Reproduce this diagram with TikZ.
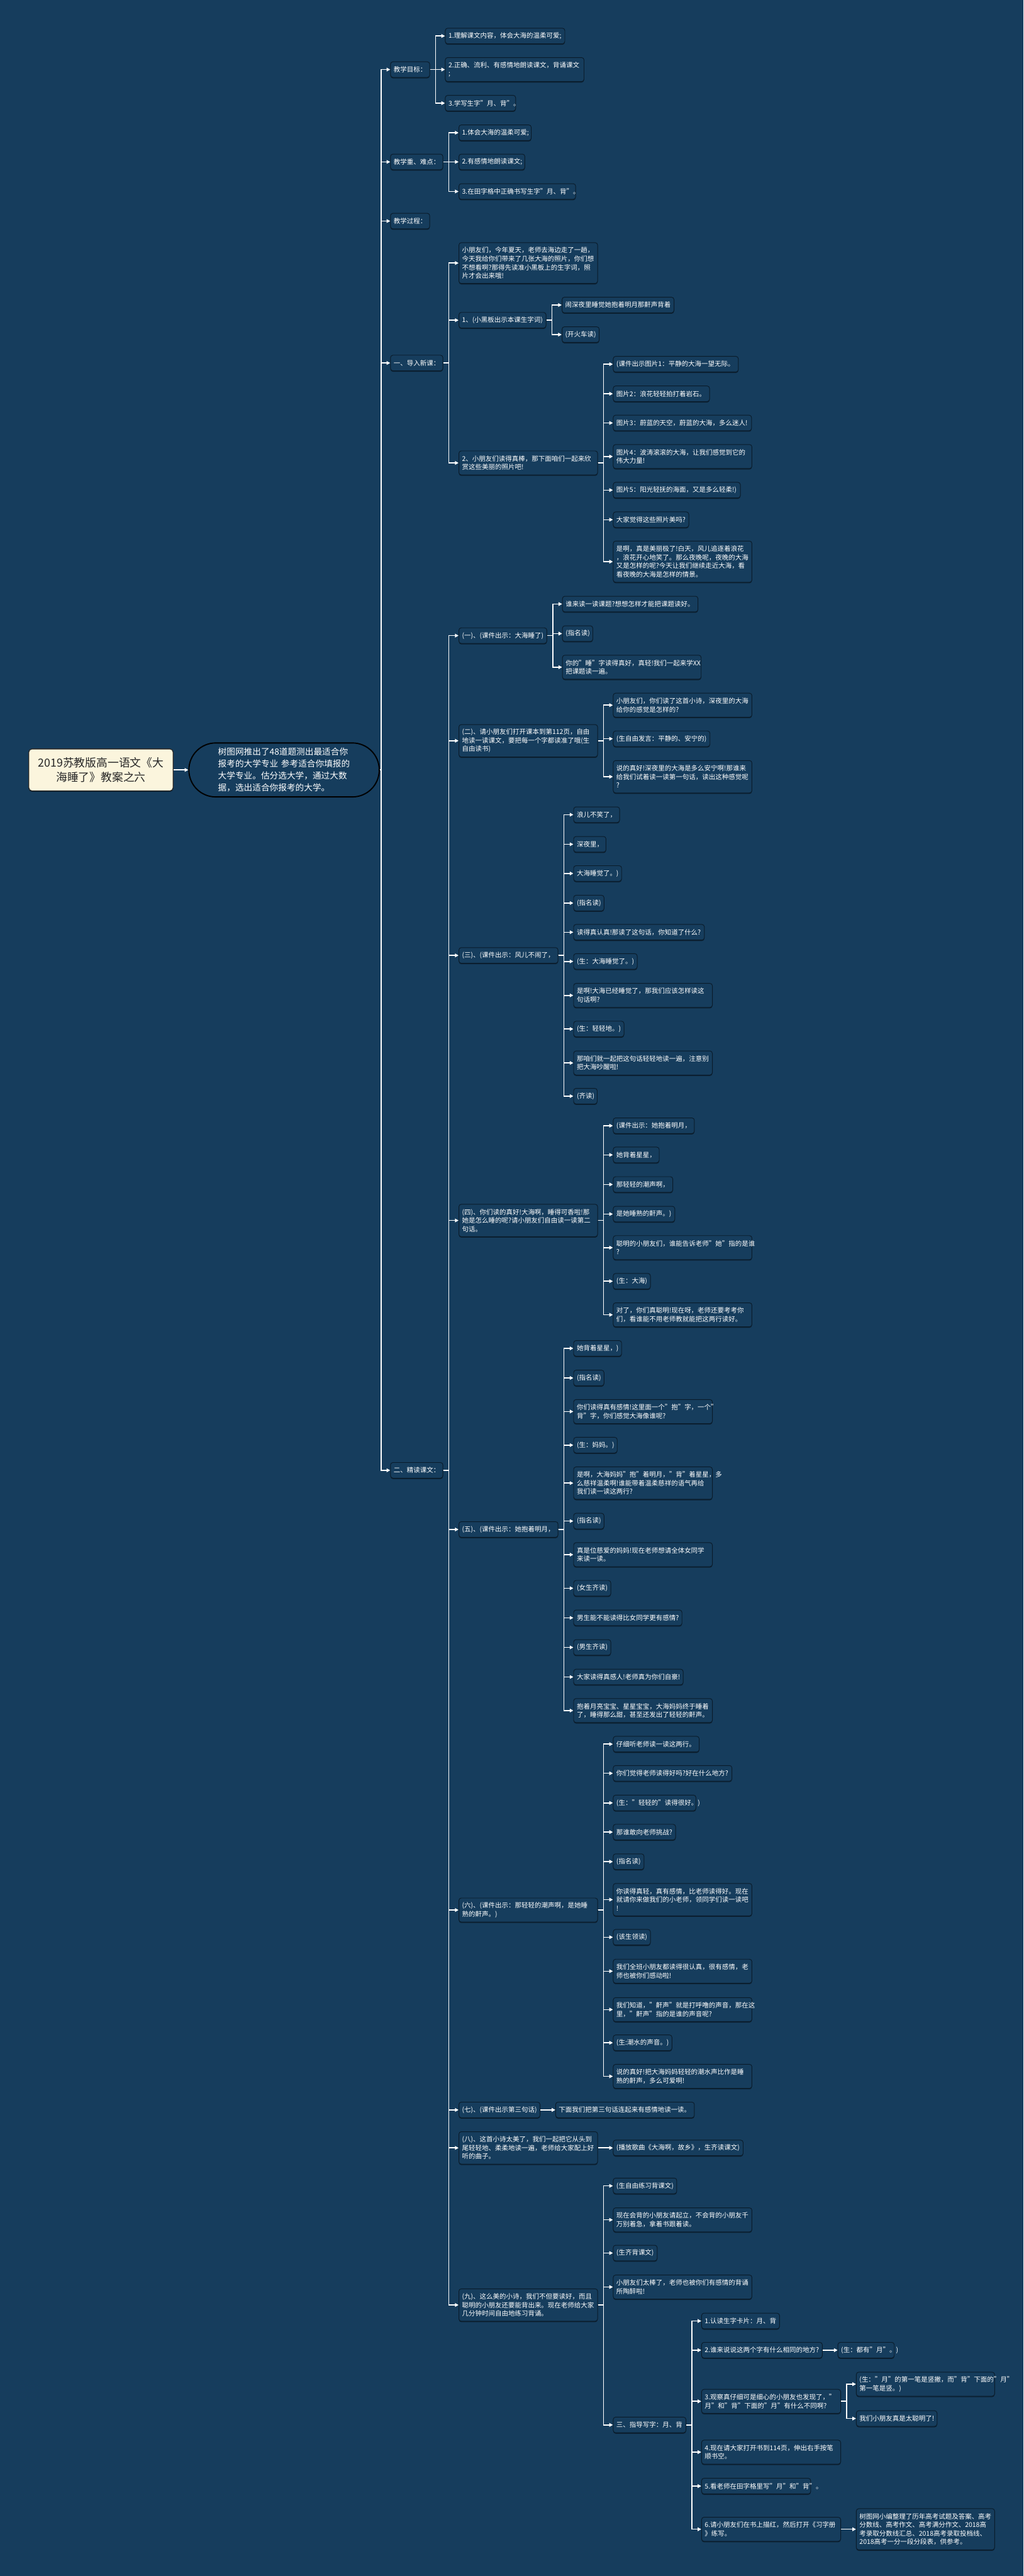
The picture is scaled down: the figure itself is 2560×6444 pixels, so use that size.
\documentclass[tikz,border=0pt]{standalone}
\usepackage{fontspec}
\setmainfont{Noto Sans CJK SC}
\usetikzlibrary{arrows.meta,shadows}
\definecolor{bg}{HTML}{163D5D}
\definecolor{edgecol}{HTML}{0A1C2B}
\definecolor{rootfill}{HTML}{FBF5DD}
\tikzset{
  box/.style={draw=edgecol, line width=1.5pt, fill=bg, rounded corners=6pt, text=white,
    inner xsep=8pt, inner ysep=0pt, align=left, font=\fontsize{16.5}{21.3}\selectfont,
    drop shadow={shadow xshift=0pt, shadow yshift=-2.5pt, opacity=0.45, fill=black}},
  rootbox/.style={draw=black!85, line width=2pt, fill=rootfill, rounded corners=8pt, text=black!85,
    inner xsep=8pt, inner ysep=0pt, align=center, font=\fontsize{28}{37}\selectfont,
    drop shadow={shadow xshift=0pt, shadow yshift=-2.5pt, opacity=0.45, fill=black}},
  descbox/.style={draw=black, line width=3pt, fill=bg, rounded corners=67pt, text=white,
    inner ysep=0pt, align=left, font=\fontsize{21.5}{30}\selectfont},
  conn/.style={draw=white, line width=2.5pt, -{Triangle[length=9pt,width=9pt]}},
}
\newcommand\mnode[6]{\pgfmathsetmacro\mtw{#4-16}\node[box, anchor=west, minimum width=#4pt, minimum height=#5pt, text width=\mtw pt] (#1) at (#2,#3) {#6};}
\newcommand\mbranch[2]{\draw[conn] (#1.east) -- ++(14,0) |- (#2.west);}
\newcommand\mlink[2]{\draw[conn] (#1.east) -- (#2.west);}
\begin{document}
\begin{tikzpicture}[x=1pt,y=-1pt]
\fill[bg] (0,0) rectangle (2560,6444);
\useasboundingbox (0,0) rectangle (2560,6444);

\node[rootbox, anchor=west, minimum width=361pt, minimum height=105pt, text width=345pt] (root) at (71,1926) {2019苏教版高一语文《大\\海睡了》教案之六};
\node[descbox, anchor=west, minimum width=476pt, minimum height=135pt, text width=330pt, inner xsep=73pt] (desc) at (471,1926) {树图网推出了48道题测出最适合你\\报考的大学专业 参考适合你填报的\\大学专业。估分选大学，通过大数\\据，选出适合你报考的大学。};
\mlink{root}{desc}

% level 2
\mnode{jxmb}{976}{174}{98}{39}{教学目标：}
\mnode{jxzd}{976}{405}{131}{39}{教学重、难点：}
\mnode{jxgc}{976}{553}{98}{39}{教学过程：}
\mnode{drxk}{976}{908}{131}{39}{一、导入新课：}
\mnode{jdkw}{976}{3678}{131}{39}{二、精读课文：}
\foreach \c in {jxmb,jxzd,jxgc,drxk,jdkw}{\draw[conn] (desc.east) -- ++(3,0) |- (\c.west);}

% 教学目标
\mnode{m1}{1113}{90}{299}{39}{1.理解课文内容，体会大海的温柔可爱;}
\mnode{m2}{1113}{174}{347}{60}{2.正确、流利、有感情地朗读课文，背诵课文\\;}
\mnode{m3}{1113}{258}{176}{39}{3.学写生字"月、背"。}
\mbranch{jxmb}{m1}\mbranch{jxmb}{m2}\mbranch{jxmb}{m3}

% 教学重难点
\mnode{z1}{1147}{332}{181}{39}{1.体会大海的温柔可爱;}
\mnode{z2}{1147}{405}{165}{39}{2.有感情地朗读课文;}
\mnode{z3}{1147}{479}{292}{39}{3.在田字格中正确书写生字"月、背"。}
\mbranch{jxzd}{z1}\mbranch{jxzd}{z2}\mbranch{jxzd}{z3}

% 一、导入新课
\mnode{d1}{1147}{658}{347}{102}{小朋友们，今年夏天，老师去海边走了一趟，\\今天我给你们带来了几张大海的照片，你们想\\不想看啊?那得先读准小黑板上的生字词，照\\片才会出来哦!}
\mnode{d2}{1147}{801}{218}{39}{1、(小黑板出示本课生字词)}
\mnode{d3}{1147}{1158}{347}{60}{2、小朋友们读得真棒，那下面咱们一起来欣\\赏这些美丽的照片吧!}
\mbranch{drxk}{d1}\mbranch{drxk}{d2}\mbranch{drxk}{d3}
\mnode{d2a}{1405}{763}{280}{39}{闹深夜里睡觉她抱着明月那鼾声背着}
\mnode{d2b}{1405}{837}{93}{39}{(开火车读)}
\mbranch{d2}{d2a}\mbranch{d2}{d2b}
\mnode{p1}{1533}{911}{313}{39}{(课件出示图片1：平静的大海一望无际。}
\mnode{p2}{1533}{985}{241}{39}{图片2：浪花轻轻拍打着岩石。}
\mnode{p3}{1533}{1058}{346}{39}{图片3：蔚蓝的天空，蔚蓝的大海，多么迷人!}
\mnode{p4}{1533}{1142}{347}{60}{图片4：波涛滚滚的大海，让我们感觉到它的\\伟大力量!}
\mnode{p5}{1533}{1226}{318}{39}{图片5：阳光轻抚的海面，又是多么轻柔!)}
\mnode{p6}{1533}{1300}{189}{39}{大家觉得这些照片美吗?}
\mnode{p7}{1533}{1405}{347}{103}{是啊，真是美丽极了!白天，风儿追逐着浪花\\，浪花开心地笑了。那么夜晚呢，夜晚的大海\\又是怎样的呢?今天让我们继续走近大海，看\\看夜晚的大海是怎样的情景。}
\foreach \c in {p1,p2,p3,p4,p5,p6,p7}{\mbranch{d3}{\c}}

% 二、精读课文
\mnode{s1}{1147}{1590}{220}{39}{(一)、(课件出示：大海睡了)}
\mnode{s2}{1147}{1853}{347}{81}{(二)、请小朋友们打开课本到第112页，自由\\地读一读课文，要把每一个字都读准了哦(生\\自由读书)}
\mnode{s3}{1147}{2390}{248}{39}{(三)、(课件出示：风儿不闹了，}
\mnode{s4}{1147}{3053}{347}{81}{(四)、你们读的真好!大海啊，睡得可香啦!那\\她是怎么睡的呢?请小朋友们自由读一读第二\\句话。}
\mnode{s5}{1147}{3826}{248}{39}{(五)、(课件出示：她抱着明月，}
\mnode{s6}{1147}{4778}{347}{60}{(六)、(课件出示：那轻轻的潮声啊，是她睡\\熟的鼾声。)}
\mnode{s7}{1147}{5278}{203}{39}{(七)、(课件出示第三句话)}
\mnode{s8}{1147}{5373}{347}{81}{(八)、这首小诗太美了，我们一起把它从头到\\尾轻轻地、柔柔地读一遍，老师给大家配上好\\听的曲子。}
\mnode{s9}{1147}{5766}{347}{81}{(九)、这么美的小诗，我们不但要读好，而且\\聪明的小朋友还要能背出来。现在老师给大家\\几分钟时间自由地练习背诵。}
\foreach \c in {s1,s2,s3,s4,s5,s6,s7,s8,s9}{\mbranch{jdkw}{\c}}

% (一)
\mnode{s1a}{1406}{1511}{339}{39}{谁来读一读课题?想想怎样才能把课题读好。}
\mnode{s1b}{1406}{1585}{76}{39}{(指名读)}
\mnode{s1c}{1406}{1669}{347}{60}{你的"睡"字读得真好，真轻!我们一起来学XX\\把课题读一遍。}
\foreach \c in {s1a,s1b,s1c}{\mbranch{s1}{\c}}

% (二)
\mnode{s2a}{1533}{1764}{347}{60}{小朋友们，你们读了这首小诗，深夜里的大海\\给你的感觉是怎样的?}
\mnode{s2b}{1533}{1848}{242}{39}{(生自由发言：平静的、安宁的)}
\mnode{s2c}{1533}{1943}{347}{81}{说的真好!深夜里的大海是多么安宁啊!那谁来\\给我们试着读一读第一句话，读出这种感觉呢\\?}
\foreach \c in {s2a,s2b,s2c}{\mbranch{s2}{\c}}

% (三)
\mnode{s3a}{1434}{2038}{115}{39}{浪儿不笑了，}
\mnode{s3b}{1434}{2112}{81}{39}{深夜里，}
\mnode{s3c}{1434}{2185}{120}{39}{大海睡觉了。)}
\mnode{s3d}{1434}{2259}{76}{39}{(指名读)}
\mnode{s3e}{1434}{2332}{327}{39}{读得真认真!那读了这句话，你知道了什么?}
\mnode{s3f}{1434}{2405}{159}{39}{(生：大海睡觉了。)}
\mnode{s3g}{1434}{2490}{347}{60}{是啊!大海已经睡觉了，那我们应该怎样读这\\句话啊?}
\mnode{s3h}{1434}{2574}{126}{39}{(生：轻轻地。)}
\mnode{s3i}{1434}{2659}{347}{60}{那咱们就一起把这句话轻轻地读一遍，注意别\\把大海吵醒啦!}
\mnode{s3j}{1434}{2742}{59}{39}{(齐读)}
\foreach \c in {s3a,s3b,s3c,s3d,s3e,s3f,s3g,s3h,s3i,s3j}{\mbranch{s3}{\c}}

% (四)
\mnode{s4a}{1533}{2816}{203}{39}{(课件出示：她抱着明月，}
\mnode{s4b}{1533}{2889}{115}{39}{她背着星星，}
\mnode{s4c}{1533}{2963}{149}{39}{那轻轻的潮声啊，}
\mnode{s4d}{1533}{3037}{154}{39}{是她睡熟的鼾声。)}
\mnode{s4e}{1533}{3121}{347}{60}{聪明的小朋友们，谁能告诉老师"她"指的是谁\\?}
\mnode{s4f}{1533}{3205}{93}{39}{(生：大海)}
\mnode{s4g}{1533}{3289}{347}{60}{对了，你们真聪明!现在呀，老师还要考考你\\们，看谁能不用老师教就能把这两行读好。}
\foreach \c in {s4a,s4b,s4c,s4d,s4e,s4f,s4g}{\mbranch{s4}{\c}}

% (五)
\mnode{s5a}{1434}{3373}{120}{39}{她背着星星，)}
\mnode{s5b}{1434}{3447}{76}{39}{(指名读)}
\mnode{s5c}{1434}{3531}{347}{60}{你们读得真有感情!这里面一个"抱"字，一个"\\背"字，你们感觉大海像谁呢?}
\mnode{s5d}{1434}{3615}{109}{39}{(生：妈妈。)}
\mnode{s5e}{1434}{3710}{347}{81}{是啊，大海妈妈"抱"着明月，"背"着星星，多\\么慈祥温柔啊!谁能带着温柔慈祥的语气再给\\我们读一读这两行?}
\mnode{s5f}{1434}{3805}{76}{39}{(指名读)}
\mnode{s5g}{1434}{3889}{347}{60}{真是位慈爱的妈妈!现在老师想请全体女同学\\来读一读。}
\mnode{s5h}{1434}{3973}{93}{39}{(女生齐读)}
\mnode{s5i}{1434}{4047}{271}{39}{男生能不能读得比女同学更有感情?}
\mnode{s5j}{1434}{4121}{93}{39}{(男生齐读)}
\mnode{s5k}{1434}{4195}{274}{39}{大家读得真感人!老师真为你们自豪!}
\mnode{s5l}{1434}{4279}{347}{60}{抱着月亮宝宝、星星宝宝，大海妈妈终于睡着\\了，睡得那么甜，甚至还发出了轻轻的鼾声。}
\foreach \c in {s5a,s5b,s5c,s5d,s5e,s5f,s5g,s5h,s5i,s5j,s5k,s5l}{\mbranch{s5}{\c}}

% (六)
\mnode{s6a}{1533}{4363}{215}{39}{仔细听老师读一读这两行。}
\mnode{s6b}{1533}{4436}{297}{39}{你们觉得老师读得好吗?好在什么地方?}
\mnode{s6c}{1533}{4510}{207}{39}{(生："轻轻的"读得很好。)}
\mnode{s6d}{1533}{4583}{156}{39}{那谁敢向老师挑战?}
\mnode{s6e}{1533}{4657}{77}{39}{(指名读)}
\mnode{s6f}{1533}{4752}{347}{81}{你读得真轻，真有感情，比老师读得好。现在\\就请你来做我们的小老师，领同学们读一读吧\\!}
\mnode{s6g}{1533}{4846}{93}{39}{(该生领读)}
\mnode{s6h}{1533}{4931}{347}{60}{我们全班小朋友都读得很认真，很有感情，老\\师也被你们感动啦!}
\mnode{s6i}{1533}{5027}{347}{60}{我们知道，"鼾声"就是打呼噜的声音，那在这\\里，"鼾声"指的是谁的声音呢?}
\mnode{s6j}{1533}{5110}{147}{39}{(生:潮水的声音。)}
\mnode{s6k}{1533}{5194}{347}{60}{说的真好!把大海妈妈轻轻的潮水声比作是睡\\熟的鼾声，多么可爱啊!}
\foreach \c in {s6a,s6b,s6c,s6d,s6e,s6f,s6g,s6h,s6i,s6j,s6k}{\mbranch{s6}{\c}}

% (七)(八)
\mnode{s7a}{1389}{5278}{347}{39}{下面我们把第三句话连起来有感情地读一读。}
\mlink{s7}{s7a}
\mnode{s8a}{1533}{5373}{325}{39}{(播放歌曲《大海啊，故乡》，生齐读课文)}
\mlink{s8}{s8a}

% (九)
\mnode{s9a}{1533}{5468}{159}{39}{(生自由练习背课文)}
\mnode{s9b}{1533}{5553}{347}{60}{现在会背的小朋友请起立，不会背的小朋友千\\万别着急，拿着书跟着读。}
\mnode{s9c}{1533}{5636}{110}{39}{(生齐背课文)}
\mnode{s9d}{1533}{5721}{347}{60}{小朋友们太棒了，老师也被你们有感情的背诵\\所陶醉啦!}
\mnode{s9e}{1533}{6066}{182}{39}{三、指导写字：月、背}
\foreach \c in {s9a,s9b,s9c,s9d,s9e}{\mbranch{s9}{\c}}

% 三、指导写字
\mnode{w1}{1754}{5806}{195}{39}{1.认读生字卡片：月、背}
\mnode{w2}{1754}{5879}{302}{39}{2.谁来说说这两个字有什么相同的地方?}
\mnode{w3}{1754}{6007}{348}{60}{3.观察真仔细可是细心的小朋友也发现了，"\\月"和"背"下面的"月"有什么不同啊?}
\mnode{w4}{1754}{6134}{348}{60}{4.现在请大家打开书到114页，伸出右手按笔\\顺书空。}
\mnode{w5}{1754}{6219}{273}{39}{5.看老师在田字格里写"月"和"背"。}
\mnode{w6}{1754}{6327}{348}{60}{6.请小朋友们在书上描红，然后打开《习字册\\》练写。}
\foreach \c in {w1,w2,w3,w4,w5,w6}{\mbranch{s9e}{\c}}
\mnode{w2a}{2095}{5879}{141}{39}{(生：都有"月"。)}
\mlink{w2}{w2a}
\mnode{w3a}{2141}{5964}{346}{60}{(生："月"的第一笔是竖撇，而"背"下面的"月"\\第一笔是竖。)}
\mnode{w3b}{2141}{6050}{202}{39}{我们小朋友真是太聪明了!}
\mbranch{w3}{w3a}\mbranch{w3}{w3b}
\mnode{w6a}{2141}{6327}{346}{103}{树图网小编整理了历年高考试题及答案、高考\\分数线、高考作文、高考满分作文、2018高\\考录取分数线汇总、2018高考录取投档线、\\2018高考一分一段分段表，供参考。}
\mlink{w6}{w6a}
\end{tikzpicture}
\end{document}
